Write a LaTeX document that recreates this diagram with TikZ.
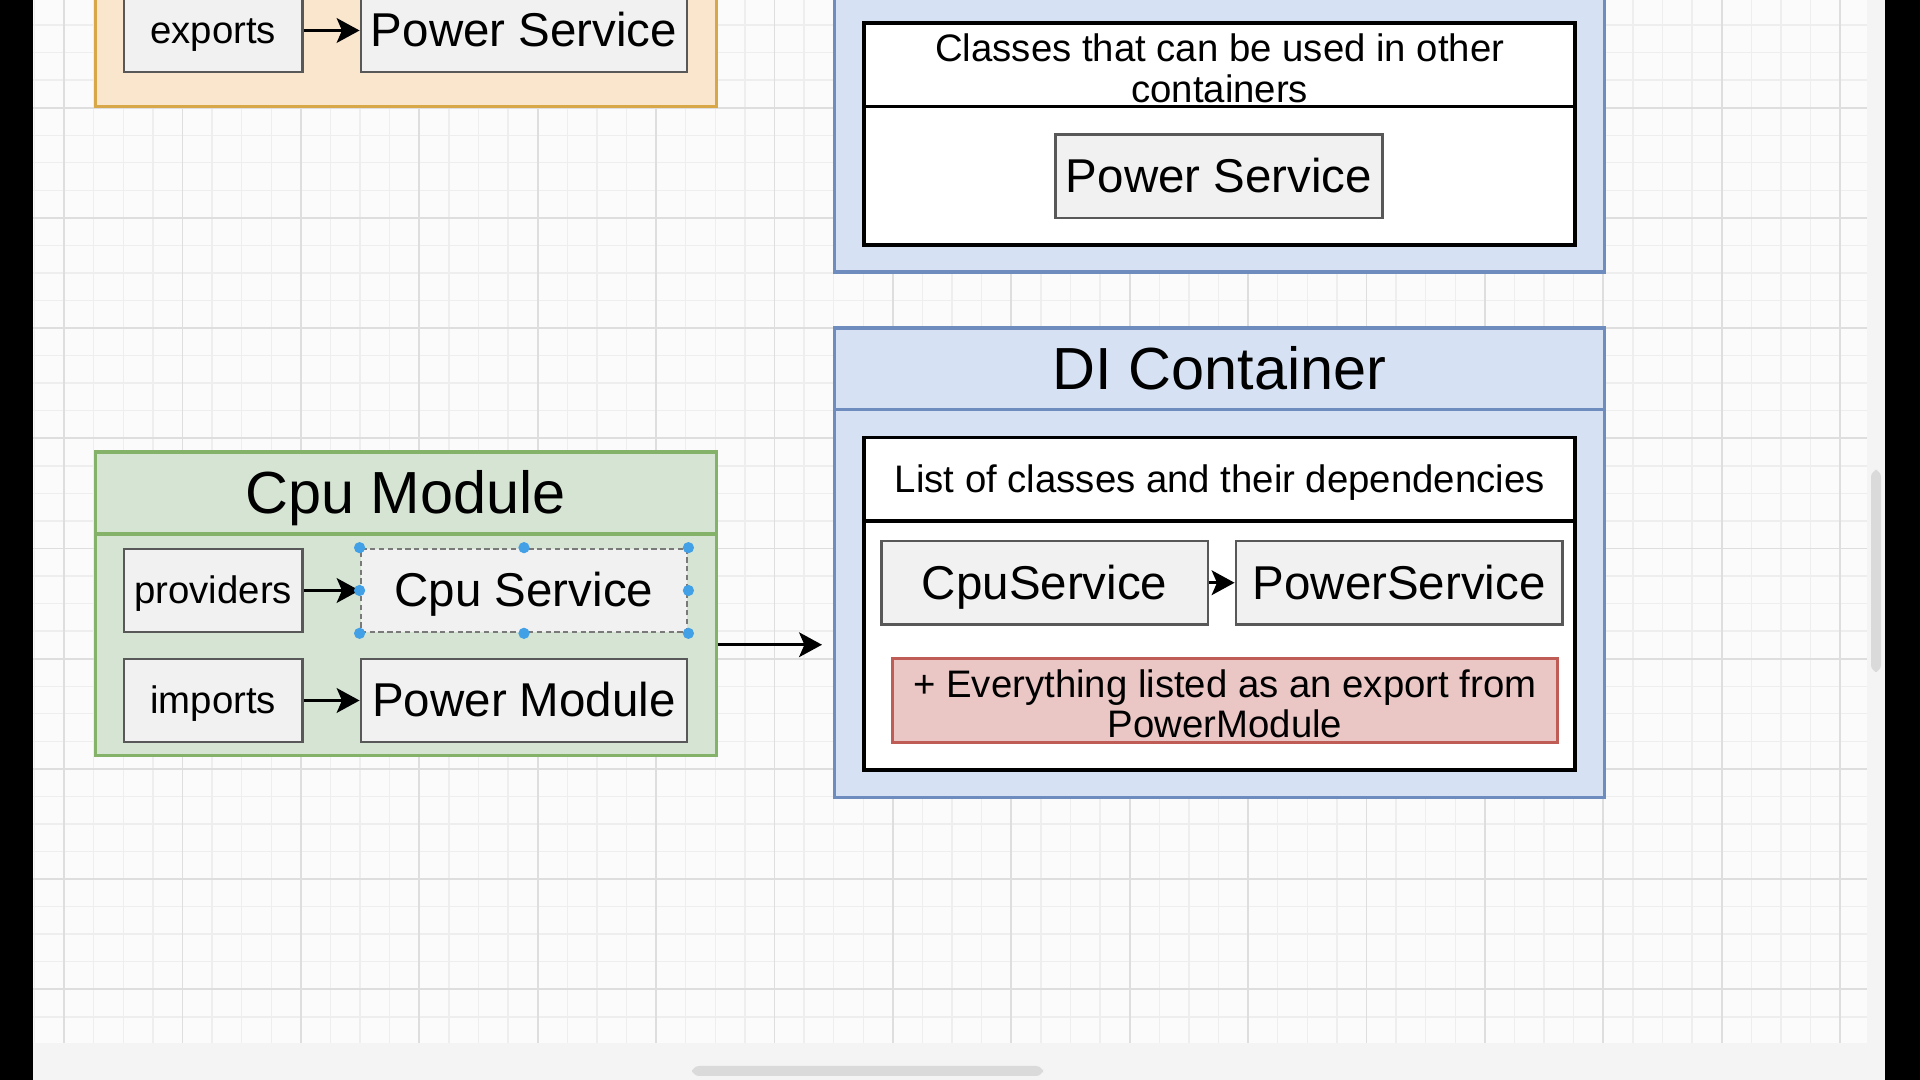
\documentclass[tikz,border=0pt]{standalone}
\usepackage{fontspec}
\setmainfont{Liberation Sans}
\usetikzlibrary{arrows.meta}

\definecolor{orfill}{RGB}{250,230,205}
\definecolor{orline}{RGB}{216,168,72}
\definecolor{grfill}{RGB}{214,229,211}
\definecolor{grline}{RGB}{132,178,104}
\definecolor{blfill}{RGB}{214,225,243}
\definecolor{blline}{RGB}{110,140,190}
\definecolor{bxfill}{RGB}{241,241,241}
\definecolor{bxline}{RGB}{88,88,88}
\definecolor{rdfill}{RGB}{234,198,197}
\definecolor{rdline}{RGB}{192,92,86}
\definecolor{handle}{RGB}{66,160,230}
\definecolor{canvas}{RGB}{251,251,251}
\definecolor{gridminor}{RGB}{238,238,238}
\definecolor{gridmajor}{RGB}{222,222,222}
\definecolor{uibar}{RGB}{244,244,244}
\definecolor{uithumb}{RGB}{218,218,218}

\newcommand{\ltop}{\rule{0pt}{0.905em}}

\tikzset{
  box/.style={draw=bxline, fill=bxfill, line width=0.75pt, inner sep=0pt,
    minimum width=3.26cm, minimum height=0.83cm, font=\fontsize{13.5}{15}\selectfont,
    text height=12.2pt, text depth=2.86pt},
  small box/.style={box, minimum width=1.785cm, font=\fontsize{10.9}{11.5}\selectfont,
    text height=9.86pt, text depth=2.31pt},
  container/.style={line width=0.9pt, inner sep=0pt, minimum width=6.205cm},
  cpu part/.style={container, draw=grline, fill=grfill},
  power part/.style={container, draw=orline, fill=orfill},
  di part/.style={container, draw=blline, fill=blfill, minimum width=7.69cm},
  sheet/.style={draw=black, fill=white, line width=1.1pt, inner sep=0pt,
    minimum width=7.105cm, align=center, font=\fontsize{10.9}{11.5}\selectfont},
  title/.style={font=\fontsize{16.9}{19}\selectfont, text height=15.3pt, text depth=3.58pt},
  note/.style={draw=rdline, fill=rdfill, line width=0.75pt, inner sep=0pt,
    minimum width=6.64cm, minimum height=0.838cm, align=center,
    font=\fontsize{10.9}{11.5}\selectfont},
  arr/.style={-{Stealth[length=6.5pt,width=7pt,inset=1.5pt]}, line width=0.9pt},
  picked/.style={dash pattern=on 1.5pt off 1pt, draw=bxline!80}
}

\begin{document}
\begin{tikzpicture}[x=0.01cm, y=-0.01cm]
  \useasboundingbox (0,0) rectangle (1920,1080);
  \clip (0,0) rectangle (1920,1080);

  \fill[canvas] (33,0) rectangle (1867,1043);
  \begin{scope}
    \clip (33,0) rectangle (1867,1043);
    \foreach \k in {-1,...,60}
      \draw[gridminor, line width=0.4pt] ({64.1+29.6*\k},0) -- ({64.1+29.6*\k},1043);
    \foreach \k in {-3,...,34}
      \draw[gridminor, line width=0.4pt] (33,{107.7+27.55*\k}) -- (1867,{107.7+27.55*\k});
    \foreach \k in {0,...,15}
      \draw[gridmajor, line width=0.5pt] ({64.1+118.4*\k},0) -- ({64.1+118.4*\k},1043);
    \foreach \k in {-1,...,8}
      \draw[gridmajor, line width=0.5pt] (33,{107.7+110.2*\k}) -- (1867,{107.7+110.2*\k});
  \end{scope}
  \fill[black] (0,0) rectangle (33,1080);
  \fill[black] (1885,0) rectangle (1920,1080);
  \fill[uibar] (1867,0) rectangle (1885,1043);
  \fill[uibar] (33,1043) rectangle (1885,1080);
  \fill[uithumb, rounded corners=2pt] (1871,470) rectangle (1881,672);
  \fill[uithumb, rounded corners=2pt] (692,1066) rectangle (1043,1076);

  \node[power part, minimum height=1.665cm] (pwrmod) at (405.75,23.25) {};
  \node[small box] (exp) at (213.25,30.5) {exports};
  \node[box] (pwrsvc) at (524,30.5) {Power Service};
  \draw[arr] (exp) -- (pwrsvc);

  \node[di part, minimum height=3.12cm] (expbox) at (1219.5,116) {};
  \node[sheet, minimum height=0.835cm] (exphead) at (1219.75,64.75)
    {\ltop Classes that can be used in other\\containers};
  \node[sheet, minimum height=1.385cm] (expbody) at (1219.75,175.75) {};
  \node[box, minimum width=3.27cm] (pwrsvc1) at (1219,176.35) {Power Service};

  \node[cpu part, minimum height=0.82cm, title] (cpuhead) at (405.75,493) {Cpu Module};
  \node[cpu part, minimum height=2.215cm] (cpubody) at (405.75,644.75) {};
  \node[small box] (prov) at (213.25,590.5) {providers};
  \node[box, picked] (cpusvc) at (524,590.5) {Cpu Service};
  \node[small box] (imp) at (213.25,700.5) {imports};
  \node[box] (pwrmodbox) at (524,700.5) {Power Module};
  \draw[arr] (prov) -- (cpusvc);
  \draw[arr] (imp) -- (pwrmodbox);
  \foreach \a in {north west,north,north east,east,south east,south,south west,west}
    \fill[handle] (cpusvc.\a) circle[radius=1.6pt];

  \node[di part, minimum height=0.82cm, title] (dihead) at (1219.5,369) {DI Container};
  \node[di part, minimum height=3.87cm] (dibody) at (1219.5,603.5) {};
  \node[sheet, minimum height=0.835cm, text height=9.86pt, text depth=2.31pt] (listhead)
    at (1219.75,479.25) {List of classes and their dependencies};
  \node[sheet, minimum height=2.49cm] (listbody) at (1219.75,645.5) {};
  \node[box, minimum width=3.263cm, minimum height=0.835cm] (cpusvc2) at (1044.65,582.75) {CpuService};
  \node[box, minimum width=3.263cm, minimum height=0.835cm] (pwrsvc2) at (1399.15,582.75) {PowerService};
  \node[note] (extra) at (1225,700.4) {\ltop + Everything listed as an export from\\PowerModule};
  \draw[arr] (cpusvc2) -- (pwrsvc2);

  \coordinate (diin) at (822,644.75);
  \draw[arr] (cpubody.east) -- (diin);
\end{tikzpicture}
\end{document}
